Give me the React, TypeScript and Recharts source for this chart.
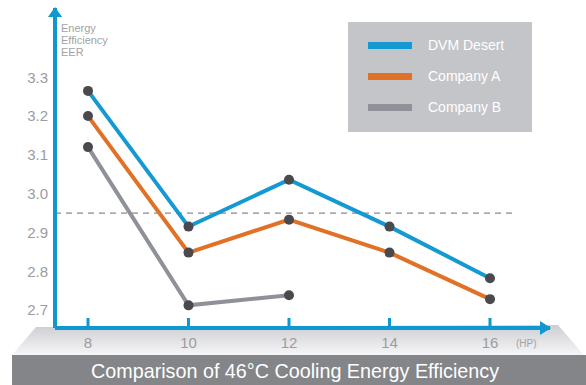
import React from "react";
import { LineChart, Line, XAxis, YAxis, ReferenceLine } from "recharts";

const hpValues = [8, 10, 12, 14, 16];
const dvmDesert = [3.265, 2.915, 3.036, 2.915, 2.782];
const companyA = [3.2, 2.848, 2.933, 2.848, 2.728];
const companyB: (number | null)[] = [3.12, 2.712, 2.738, null, null];
const yTicks = [2.7, 2.8, 2.9, 3.0, 3.1, 3.2, 3.3];
const baseline = 2.95;

const seriesList = [
    { key: "dvm", name: "DVM Desert", color: "#1499d3" },
    { key: "a", name: "Company A", color: "#e07127" },
    { key: "b", name: "Company B", color: "#8e9198" },
];

const data = hpValues.map((hp, i) => ({ hp, dvm: dvmDesert[i], a: companyA[i], b: companyB[i] }));

const AXIS_BLUE = "#0f97d0";
const FONT = "'Liberation Sans', Arial, sans-serif";

const HpTick: React.FC<any> = ({ x, y, payload }) => (
    <g>
        <line x1={x} x2={x} y1={y} y2={y - 10} stroke={AXIS_BLUE} strokeWidth={3} />
        <text x={x} y={y + 20} textAnchor="middle" fill="#9c9ca0" fontSize={15} fontFamily={FONT}>
            {payload.value}
        </text>
    </g>
);

const LegendBox: React.FC = () => (
    <div style={{ position: "absolute", left: 348, top: 22, width: 184, height: 110, background: "#c4c5c9" }}>
        {seriesList.map((s, i) => (
            <div key={s.key} style={{ position: "absolute", left: 20, top: 14 + i * 31, height: 18, display: "flex", alignItems: "center" }}>
                <div style={{ width: 44, height: 7, background: s.color }} />
                <span style={{ marginLeft: 16, color: "#fff", fontSize: 14, fontFamily: FONT }}>{s.name}</span>
            </div>
        ))}
    </div>
);

function App() {
    return (
        <div style={{ position: "absolute", left: 0, top: 0, width: 586, height: 385, background: "#fff", fontFamily: FONT }}>
            <svg width={586} height={385} style={{ position: "absolute", left: 0, top: 0 }}>
                <defs>
                    <linearGradient id="floor" x1="0" y1="0" x2="0" y2="1">
                        <stop offset="0%" stopColor="#cdced2" />
                        <stop offset="100%" stopColor="#f6f6f8" />
                    </linearGradient>
                </defs>
                <polygon points="36,327 558,325 584,355 12,355" fill="url(#floor)" />
                <rect x={12} y={355} width={574} height={30} fill="#848589" />
                <text x={295} y={378} textAnchor="middle" fill="#fff" fontSize={21} fontFamily={FONT} textLength={408} lengthAdjust="spacingAndGlyphs">
                    Comparison of 46°C Cooling Energy Efficiency
                </text>
            </svg>
            <LegendBox />
            <div style={{ position: "absolute", left: 0, top: 0 }}>
                <LineChart width={586} height={385} data={data} margin={{ top: 8, right: 36, bottom: 0, left: 0 }}>
                    <XAxis
                        dataKey="hp"
                        type="number"
                        domain={[7.343, 17.194]}
                        ticks={hpValues}
                        allowDataOverflow
                        height={57}
                        axisLine={{ stroke: AXIS_BLUE, strokeWidth: 4 }}
                        tickLine={false}
                        tickSize={0}
                        tickMargin={0}
                        tick={<HpTick />}
                        interval={0}
                    />
                    <YAxis
                        type="number"
                        domain={[2.6536, 3.4787]}
                        ticks={yTicks}
                        allowDataOverflow
                        width={55}
                        axisLine={{ stroke: AXIS_BLUE, strokeWidth: 4 }}
                        tickLine={false}
                        tickSize={0}
                        tickMargin={7}
                        tickFormatter={(v: number) => v.toFixed(1)}
                        tick={{ fill: "#9c9ca0", fontSize: 15, fontFamily: FONT }}
                        interval={0}
                    />
                    <ReferenceLine
                        segment={[{ x: 7.343, y: baseline }, { x: 16.48, y: baseline }]}
                        stroke="#8a8a8e"
                        strokeDasharray="6 5"
                        strokeWidth={1.2}
                        ifOverflow="visible"
                    />
                    {seriesList.map((s) => (
                        <Line
                            key={s.key}
                            type="linear"
                            dataKey={s.key}
                            name={s.name}
                            stroke={s.color}
                            strokeWidth={4}
                            dot={{ r: 5, fill: "#49494e", stroke: "none" }}
                            activeDot={false}
                            connectNulls={false}
                            isAnimationActive={false}
                        />
                    ))}
                </LineChart>
            </div>
            <svg width={586} height={385} style={{ position: "absolute", left: 0, top: 0, pointerEvents: "none" }}>
                <polygon points="55,7 48,17 62,17" fill={AXIS_BLUE} />
                <polygon points="551,328 540,321 540,335" fill={AXIS_BLUE} />
                <text x={61} y={32} fill="#a2a2a6" fontSize={11} fontFamily={FONT}>Energy</text>
                <text x={61} y={44} fill="#a2a2a6" fontSize={11} fontFamily={FONT}>Efficiency</text>
                <text x={61} y={56} fill="#a2a2a6" fontSize={11} fontFamily={FONT}>EER</text>
                <text x={516} y={347} fill="#a2a2a6" fontSize={10} fontFamily={FONT}>(HP)</text>
            </svg>
        </div>
    );
}

export default App;
